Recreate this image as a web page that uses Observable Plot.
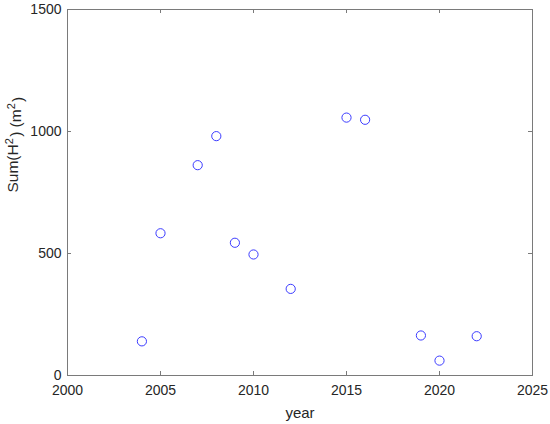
<!DOCTYPE html>
<html>
<head>
<meta charset="utf-8">
<script src="https://cdn.jsdelivr.net/npm/d3@7"></script>
<script src="https://cdn.jsdelivr.net/npm/@observablehq/plot@0.6"></script>
<style>
  html, body { margin: 0; padding: 0; background: #fff; }
  svg { font-family: "Liberation Sans", Arial, sans-serif; }
</style>
</head>
<body>
<div id="chart"></div>
<script>
const years = [2004, 2005, 2007, 2008, 2009, 2010, 2012, 2015, 2016, 2019, 2020, 2022];
const sumH2 = [140, 583, 862, 981, 544, 496, 355, 1057, 1048, 164, 61, 161];
const xTicks = [2000, 2005, 2010, 2015, 2020, 2025];
const yTicks = [0, 500, 1000, 1500];
const xLabel = "year";
const yLabel = "Sum(H²) (m²)";

const data = years.map((y, i) => ({year: y, value: sumH2[i]}));

const W = 550, H = 424;
const mL = 67, mR = 18, mT = 9, mB = 49;
const fw = W - mL - mR, fh = H - mT - mB;
const tl = 4;
const axisColor = "#7a7a7a";
const textColor = "#262626";

const chart = Plot.plot({
  width: W,
  height: H,
  marginLeft: mL,
  marginRight: mR,
  marginTop: mT,
  marginBottom: mB,
  style: {fontSize: "14px", fontFamily: "Liberation Sans, Arial, sans-serif", color: textColor, background: "#fff"},
  x: {domain: [2000, 2025]},
  y: {domain: [0, 1500]},
  marks: [
    Plot.frame({stroke: axisColor, strokeWidth: 1}),
    Plot.tickX(xTicks, {x: d => d, stroke: axisColor, insetTop: fh - tl}),
    Plot.tickX(xTicks, {x: d => d, stroke: axisColor, insetBottom: fh - tl}),
    Plot.tickY(yTicks, {y: d => d, stroke: axisColor, insetRight: fw - tl}),
    Plot.tickY(yTicks, {y: d => d, stroke: axisColor, insetLeft: fw - tl}),
    Plot.axisX({ticks: xTicks, tickSize: 0, tickPadding: 10, tickFormat: d => String(d), fill: textColor, fontSize: 14,
      label: null}),
    Plot.axisY({ticks: yTicks, tickSize: 0, tickPadding: 6, tickFormat: d => String(d), fill: textColor, fontSize: 14,
      label: null}),
    Plot.text([xLabel], {frameAnchor: "bottom", dy: 32, text: d => d, fill: textColor, fontSize: 15, lineAnchor: "top"}),
    Plot.text([yLabel], {frameAnchor: "left", dx: -54, rotate: -90, text: d => d, fill: textColor, fontSize: 15.5}),
    Plot.dot(data, {x: "year", y: "value", r: 4.6, stroke: "#3c3cff", strokeWidth: 1, fill: "none"})
  ]
});

// render the ² characters of the y label as raised superscripts
d3.select(chart).selectAll("text").each(function() {
  const t = d3.select(this);
  if (t.text() === yLabel) {
    const parts = yLabel.split("²");
    t.text(null);
    parts.forEach((p, i) => {
      t.append("tspan").text(p);
      if (i < parts.length - 1) {
        t.append("tspan").attr("dy", "-0.5em").attr("font-size", "11px").text("2");
        t.append("tspan").attr("dy", "0.5em").text("\u200a");
      }
    });
  }
});

document.getElementById("chart").appendChild(chart);
</script>
</body>
</html>
